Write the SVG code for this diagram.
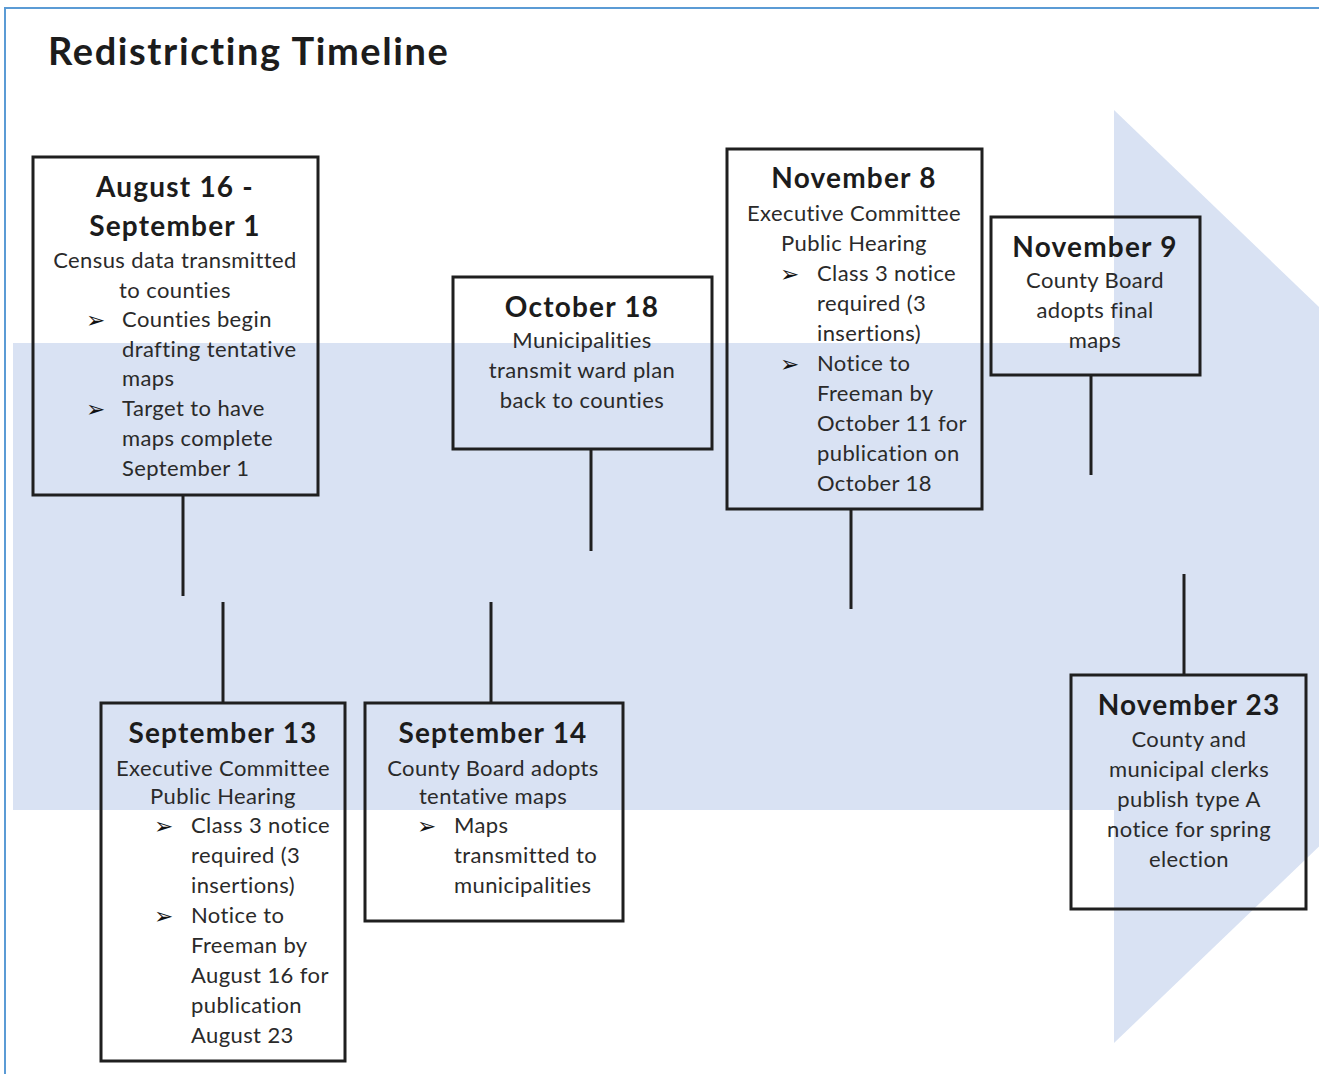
<svg xmlns="http://www.w3.org/2000/svg" width="1319" height="1074" viewBox="0 0 1319 1074">
<style>
.box{fill:none;stroke:#1f1f1f;stroke-width:3}
.conn line{stroke:#1f1f1f;stroke-width:3}
text{font-family:Lato,"Liberation Sans",sans-serif;fill:#2a2a2a}
.h{font-size:28px;font-weight:bold;text-anchor:middle;fill:#1c1c1c;letter-spacing:1.2px}
.c{font-size:22px;text-anchor:middle;letter-spacing:0.4px}
.b{font-size:22px;letter-spacing:0.4px}
.ar{font-family:"DejaVu Sans",sans-serif;font-size:23px;fill:#111}
.title{font-size:38px;font-weight:bold;fill:#1c1c1c;letter-spacing:1.6px}
</style>
<rect width="1319" height="1074" fill="#ffffff"/>
<path d="M5,1074 V8 H1319" fill="none" stroke="#5b9bd5" stroke-width="2"/>
<g id="timeline-arrow" fill="#d9e2f3">
<rect x="13" y="343" width="1102" height="467"/>
<polygon points="1114,110 1600,577 1114,1043"/>
</g>
<text class="title" x="48" y="65">Redistricting Timeline</text>

<g class="conn" id="connectors">
<line x1="183" y1="495" x2="183" y2="596"/>
<line x1="223" y1="602" x2="223" y2="703"/>
<line x1="591" y1="449" x2="591" y2="551"/>
<line x1="491" y1="602" x2="491" y2="703"/>
<line x1="851" y1="509" x2="851" y2="609"/>
<line x1="1091" y1="375" x2="1091" y2="475"/>
<line x1="1184" y1="574" x2="1184" y2="675"/>
</g>

<g id="aug16">
<rect class="box" x="33" y="157" width="285" height="338"/>
<text class="h" x="175" y="197">August 16 -</text>
<text class="h" x="175" y="236">September 1</text>
<text class="c" x="175" y="268">Census data transmitted</text>
<text class="c" x="175" y="298">to counties</text>
<text class="ar" x="86" y="328">➢</text>
<text class="b" x="122" y="327">Counties begin</text>
<text class="b" x="122" y="357">drafting tentative</text>
<text class="b" x="122" y="386">maps</text>
<text class="ar" x="86" y="417">➢</text>
<text class="b" x="122" y="416">Target to have</text>
<text class="b" x="122" y="446">maps complete</text>
<text class="b" x="122" y="476">September 1</text>
</g>

<g id="oct18">
<rect class="box" x="453" y="277" width="259" height="172"/>
<text class="h" x="582" y="317">October 18</text>
<text class="c" x="582" y="348">Municipalities</text>
<text class="c" x="582" y="378">transmit ward plan</text>
<text class="c" x="582" y="408">back to counties</text>
</g>

<g id="nov8">
<rect class="box" x="727" y="149" width="255" height="360"/>
<text class="h" x="854" y="188">November 8</text>
<text class="c" x="854" y="221">Executive Committee</text>
<text class="c" x="854" y="251">Public Hearing</text>
<text class="ar" x="780" y="282">➢</text>
<text class="b" x="817" y="281">Class 3 notice</text>
<text class="b" x="817" y="311">required (3</text>
<text class="b" x="817" y="341">insertions)</text>
<text class="ar" x="780" y="372">➢</text>
<text class="b" x="817" y="371">Notice to</text>
<text class="b" x="817" y="401">Freeman by</text>
<text class="b" x="817" y="431">October 11 for</text>
<text class="b" x="817" y="461">publication on</text>
<text class="b" x="817" y="491">October 18</text>
</g>

<g id="nov9">
<rect class="box" x="991" y="217" width="209" height="158"/>
<text class="h" x="1095" y="257">November 9</text>
<text class="c" x="1095" y="288">County Board</text>
<text class="c" x="1095" y="318">adopts final</text>
<text class="c" x="1095" y="348">maps</text>
</g>

<g id="sep13">
<rect class="box" x="101" y="703" width="244" height="358"/>
<text class="h" x="223" y="743">September 13</text>
<text class="c" x="223" y="776">Executive Committee</text>
<text class="c" x="223" y="804">Public Hearing</text>
<text class="ar" x="154" y="834">➢</text>
<text class="b" x="191" y="833">Class 3 notice</text>
<text class="b" x="191" y="863">required (3</text>
<text class="b" x="191" y="893">insertions)</text>
<text class="ar" x="154" y="924">➢</text>
<text class="b" x="191" y="923">Notice to</text>
<text class="b" x="191" y="953">Freeman by</text>
<text class="b" x="191" y="983">August 16 for</text>
<text class="b" x="191" y="1013">publication</text>
<text class="b" x="191" y="1043">August 23</text>
</g>

<g id="sep14">
<rect class="box" x="365" y="703" width="258" height="218"/>
<text class="h" x="493" y="743">September 14</text>
<text class="c" x="493" y="776">County Board adopts</text>
<text class="c" x="493" y="804">tentative maps</text>
<text class="ar" x="417" y="834">➢</text>
<text class="b" x="454" y="833">Maps</text>
<text class="b" x="454" y="863">transmitted to</text>
<text class="b" x="454" y="893">municipalities</text>
</g>

<g id="nov23">
<rect class="box" x="1071" y="675" width="235" height="234"/>
<text class="h" x="1189" y="715">November 23</text>
<text class="c" x="1189" y="747">County and</text>
<text class="c" x="1189" y="777">municipal clerks</text>
<text class="c" x="1189" y="807">publish type A</text>
<text class="c" x="1189" y="837">notice for spring</text>
<text class="c" x="1189" y="867">election</text>
</g>
</svg>
